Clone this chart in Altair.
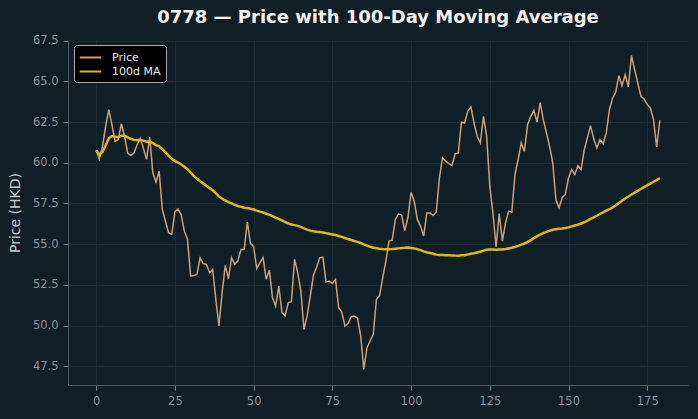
import altair as alt
import pandas as pd

days = list(range(180))
price = [
    60.77, 60.24, 61.0, 62.24, 63.26, 62.34, 61.32, 61.42, 62.4, 61.63,
    60.6, 60.44, 60.6, 61.1, 61.5, 60.9, 60.2, 61.57, 59.38, 58.8,
    59.48, 57.13, 56.41, 55.7, 55.6, 57.0, 57.17, 56.8, 55.8, 55.29,
    53.04, 53.08, 53.14, 54.16, 53.8, 53.76, 53.25, 53.45, 51.6, 49.98,
    52.02, 53.7, 52.88, 54.17, 53.76, 53.97, 54.68, 54.68, 56.36, 55.05,
    54.85, 53.5, 53.86, 54.17, 52.84, 53.41, 51.7, 51.2, 52.43, 50.8,
    50.59, 51.41, 51.47, 54.07, 53.25, 52.13, 49.77, 50.59, 51.82, 53.1,
    53.6, 54.16, 54.2, 52.67, 52.73, 52.59, 52.83, 51.1, 50.83, 49.97,
    50.14, 50.54, 50.58, 50.46, 49.36, 47.31, 48.64, 49.05, 49.46, 51.6,
    51.85, 52.94, 53.96, 55.19, 55.25, 56.52, 56.86, 56.78, 55.84, 56.62,
    58.19, 57.64, 56.52, 56.11, 55.5, 56.92, 56.92, 56.76, 56.97, 59.07,
    60.3, 60.1, 59.95, 59.83, 60.56, 60.6, 62.49, 62.44, 63.16, 63.43,
    62.44, 61.63, 61.22, 62.85, 61.63, 58.56, 56.92, 54.84, 56.88, 55.19,
    56.31, 57.03, 56.96, 59.28, 60.2, 61.22, 60.7, 62.34, 62.85, 63.22,
    62.5, 63.7, 62.65, 61.83, 61.0, 60.0, 57.74, 57.23, 57.85, 58.05,
    59.07, 59.58, 59.28, 59.83, 59.58, 60.81, 61.53, 62.28, 61.47, 60.91,
    61.43, 61.18, 61.83, 63.27, 63.98, 64.33, 65.35, 64.74, 65.41, 64.66,
    66.58, 65.72, 64.9, 64.08, 63.92, 63.57, 63.37, 62.65, 60.98, 62.61,
]
x_ticks = [0, 25, 50, 75, 100, 125, 150, 175]
y_ticks = [47.5, 50.0, 52.5, 55.0, 57.5, 60.0, 62.5, 65.0, 67.5]
series_names = ["Price", "100d MA"]
series_colors = ["#c9a07a", "#dcb61c"]

df = pd.DataFrame({"day": days, "price": price})

BG = "#101f26"

x_enc = alt.X(
    "day:Q",
    scale=alt.Scale(domain=[-8.95, 187.95], nice=False, zero=False),
    axis=alt.Axis(values=x_ticks, title=None, format="d"),
)
y_scale = alt.Scale(domain=[46.35, 67.54], nice=False, zero=False)
y_axis = alt.Axis(values=y_ticks, format=".1f", title="Price (HKD)")
color_enc = alt.Color(
    "series:N",
    scale=alt.Scale(domain=series_names, range=series_colors),
    legend=alt.Legend(title=None),
)

base = alt.Chart(df)

price_line = base.transform_calculate(series="'Price'").mark_line(
    strokeWidth=1.5, clip=True
).encode(
    x=x_enc,
    y=alt.Y("price:Q", scale=y_scale, axis=y_axis),
    color=color_enc,
)

ma_line = base.transform_window(
    ma="mean(price)", frame=[-99, 0], sort=[alt.SortField("day")]
).transform_calculate(series="'100d MA'").mark_line(
    strokeWidth=2.5, clip=True
).encode(
    x=x_enc,
    y=alt.Y("ma:Q", scale=y_scale, axis=y_axis),
    color=color_enc,
)

chart = alt.layer(price_line, ma_line).properties(
    width=620,
    height=345,
    background=BG,
    padding={"left": 68, "top": 40, "right": 10, "bottom": 34},
    autosize=alt.AutoSizeParams(type="none"),
    title=alt.TitleParams(
        text="0778 — Price with 100-Day Moving Average",
        fontSize=18,
        fontWeight="bold",
        color="#f2f2f2",
        font="DejaVu Sans",
        anchor="middle",
        offset=8,
    ),
).configure_view(
    stroke=None, fill=BG
).configure_axis(
    labelColor="#8a9196",
    labelFont="DejaVu Sans",
    labelFontSize=11.5,
    tickColor="#7a8186",
    tickSize=5,
    domainColor="#4f585d",
    gridColor="#1a2a31",
    gridWidth=1,
    titleColor="#c5c9cc",
    titleFont="DejaVu Sans",
    titleFontSize=14,
    titleFontWeight="normal",
    labelPadding=5,
).configure_axisY(
    titlePadding=10,
).configure_legend(
    orient="none",
    legendX=6,
    legendY=5,
    fillColor="#000000",
    strokeColor="#a8a8a8",
    cornerRadius=3,
    padding=5,
    labelColor="#eaeaea",
    labelFont="DejaVu Sans",
    labelFontSize=11,
    symbolType="M-1.7,0H1.7",
    symbolSize=160,
    symbolStrokeWidth=2,
    symbolOffset=4,
    labelOffset=14,
    rowPadding=1,
)

chart.save("out.html", embed_options={"renderer": "svg", "actions": False})
